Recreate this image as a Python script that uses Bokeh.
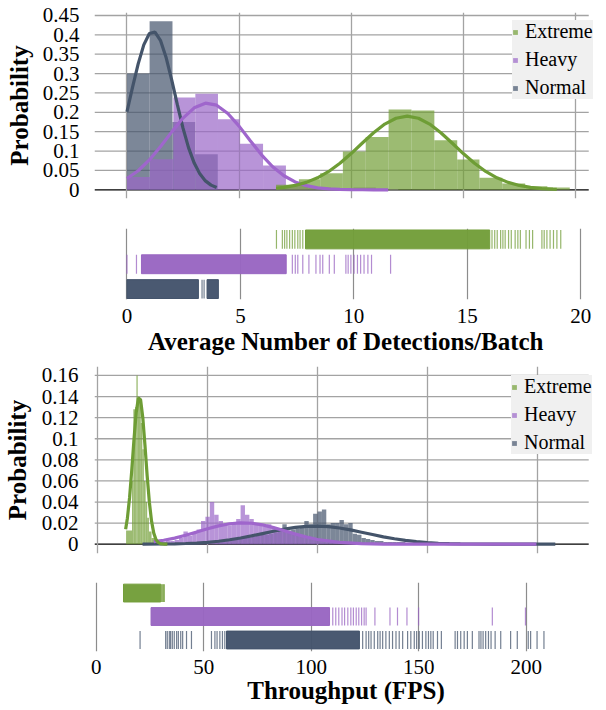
from bokeh.plotting import figure
from bokeh.layouts import column
from bokeh.models import FixedTicker, Grid, Legend, LegendItem, Range1d
from bokeh.embed import file_html
from bokeh.resources import INLINE

# ------------------------------------------------------------------ data
series = ["Extreme", "Heavy", "Normal"]

# ---- panel A : average number of detections / batch
det_xticks = [0, 5, 10, 15, 20]
det_xlabels = ["0", "5", "10", "15", "20"]
det_yticks = [0, 0.05, 0.1, 0.15, 0.2, 0.25, 0.3, 0.35, 0.4, 0.45]
det_ylabels = ["0", "0.05", "0.1", "0.15", "0.2", "0.25", "0.3", "0.35", "0.4", "0.45"]

det_normal_edges = [0.0, 1.01, 2.03, 3.04, 4.05]
det_normal_prob = [0.300, 0.435, 0.175, 0.092]
det_heavy_edges = [0.0, 1.02, 2.07, 3.05, 4.06, 5.03, 6.07, 7.09, 8.1, 9.1, 10.1, 11.1, 12.1]
det_heavy_prob = [0.033, 0.079, 0.238, 0.248, 0.182, 0.119, 0.063, 0.012, 0.006, 0.004, 0.006, 0.002]
det_ext_edges = [6.65, 7.67, 8.62, 9.63, 10.65, 11.67, 12.69, 13.71, 14.73, 15.72, 16.74, 17.76, 18.75, 19.75]
det_ext_prob = [0.013, 0.027, 0.043, 0.099, 0.136, 0.207, 0.205, 0.128, 0.078, 0.031, 0.016, 0.009, 0.006]

det_normal_fit_x = [0, 0.25, 0.5, 0.75, 1.0, 1.25, 1.5, 1.75, 2.0, 2.25, 2.5, 2.75, 3.0, 3.25, 3.5, 3.75, 4.0]
det_normal_fit_y = [0.2015, 0.265, 0.325, 0.374, 0.4035, 0.4072, 0.385, 0.3406, 0.2822, 0.2190, 0.1591,
                    0.1082, 0.0689, 0.0411, 0.0230, 0.0120, 0.0059]
det_heavy_fit_x = [0, 0.5, 1.0, 1.5, 2.0, 2.5, 3.0, 3.5, 4.0, 4.5, 5.0, 5.5, 6.0, 6.5, 7.0, 7.5, 8.0,
                   8.5, 9.0, 9.5, 10.0, 10.5, 11.0, 11.65]
det_heavy_fit_y = [0.0290, 0.0491, 0.0771, 0.1117, 0.1495, 0.1851, 0.2116, 0.2236, 0.2184, 0.1971, 0.1644,
                   0.1267, 0.0903, 0.0594, 0.0362, 0.0203, 0.0106, 0.0051, 0.0022, 0.0009, 0.0004, 0.0001,
                   0.0, 0.0]
det_ext_fit_x = [6.65, 7.0, 7.5, 8.0, 8.5, 9.0, 9.5, 10.0, 10.5, 11.0, 11.5, 12.0, 12.5, 13.0, 13.5, 14.0,
                 14.5, 15.0, 15.5, 16.0, 16.5, 17.0, 17.5, 18.0, 18.5, 19.0, 19.17]
det_ext_fit_y = [0.0039, 0.0062, 0.0112, 0.0191, 0.0310, 0.0474, 0.0685, 0.0935, 0.1207, 0.1472, 0.1696,
                 0.1847, 0.190, 0.1847, 0.1696, 0.1472, 0.1207, 0.0935, 0.0685, 0.0474, 0.0310, 0.0191,
                 0.0112, 0.0062, 0.0032, 0.0016, 0.0012]

# rug: dense stretches (start, end) and single observations
det_ext_rug_dense = [(7.87, 15.99)]
det_ext_rug_ticks = [6.59, 6.85, 6.95, 7.05, 7.17, 7.29, 7.40, 7.53, 7.63, 7.75, 16.09, 16.21, 16.32, 16.47,
                     16.57, 16.67, 16.82, 16.94, 17.11, 17.23, 17.34, 17.59, 17.74, 17.88, 18.29, 18.39,
                     18.51, 18.65, 18.80, 18.95, 19.12]
det_heavy_rug_dense = [(0.64, 7.02)]
det_heavy_rug_ticks = [0.0, 0.42, 7.29, 7.42, 7.53, 7.75, 8.02, 8.33, 8.51, 8.63, 8.92, 9.14, 9.65, 9.75,
                       9.87, 10.01, 10.16, 10.30, 10.45, 10.62, 10.78, 11.62]
det_normal_rug_dense = [(0.0, 3.15), (3.53, 4.03)]
det_normal_rug_ticks = [3.31, 3.40]

# ---- panel B : throughput (FPS)
fps_xticks = [0, 50, 100, 150, 200]
fps_xlabels = ["0", "50", "100", "150", "200"]
fps_yticks = [0, 0.02, 0.04, 0.06, 0.08, 0.1, 0.12, 0.14, 0.16]
fps_ylabels = ["0", "0.02", "0.04", "0.06", "0.08", "0.1", "0.12", "0.14", "0.16"]

fps_ext_edges = [12.9, 15.6, 16.2, 17.0, 17.6, 18.2, 18.8, 19.6, 20.3, 21.0, 21.8, 22.5, 23.3, 24.5, 26.0,
                 28.0, 31.7]
fps_ext_prob = [0.013, 0.060, 0.128, 0.130, 0.160, 0.140, 0.138, 0.115, 0.090, 0.060, 0.040, 0.025, 0.012,
                0.006, 0.003, 0.001]
fps_heavy_edges = list(range(25, 203, 2))
fps_heavy_prob = [0.001, 0.002, 0.002, 0.003, 0.003, 0.004, 0.006, 0.012, 0.008, 0.010,
                  0.014, 0.022, 0.026, 0.040, 0.028, 0.022, 0.019, 0.018, 0.021, 0.024,
                  0.037, 0.028, 0.024, 0.019, 0.018, 0.017, 0.019, 0.016, 0.015, 0.013,
                  0.012, 0.011, 0.010, 0.009, 0.008, 0.007, 0.006, 0.005, 0.005, 0.004,
                  0.003, 0.003, 0.002, 0.002, 0.002, 0.001, 0.001, 0.001, 0.001, 0.001,
                  0.0005, 0.0003, 0.0003, 0, 0.0003, 0, 0.0003, 0, 0, 0.0003,
                  0, 0, 0.0003, 0, 0, 0, 0, 0, 0, 0,
                  0, 0, 0, 0, 0, 0, 0, 0, 0, 0.0003,
                  0, 0, 0, 0, 0, 0, 0, 0.0003]
fps_normal_edges = list(range(20, 212, 2))
fps_normal_prob = [0.0005, 0, 0, 0, 0, 0, 0.001, 0.001, 0.001, 0.001,
                   0.0007, 0.0005, 0.0005, 0, 0, 0, 0.0005, 0.002, 0.002, 0.003,
                   0.004, 0.004, 0.005, 0.006, 0.006, 0.007, 0.008, 0.009, 0.009, 0.010,
                   0.011, 0.012, 0.019, 0.013, 0.014, 0.015, 0.017, 0.022, 0.019, 0.029,
                   0.031, 0.033, 0.019, 0.020, 0.020, 0.023, 0.019, 0.020, 0.010, 0.009,
                   0.006, 0.005, 0.004, 0.003, 0.003, 0.002, 0.002, 0.002, 0.002, 0.002,
                   0.001, 0.001, 0.001, 0.001, 0.001, 0.001, 0.001, 0.001, 0.001, 0.0005,
                   0.0005, 0, 0, 0.0007, 0.0007, 0.0005, 0.0005, 0.0003, 0.0003, 0.0005,
                   0.0005, 0.0005, 0.0003, 0.0003, 0.0002, 0.0002, 0.0003, 0.0002, 0, 0.0002,
                   0.0003, 0.0002, 0.0002, 0.0002, 0.0002]

fps_ext_fit_x = [12.7, 13.5, 14.5, 15.5, 16.5, 17.5, 18.5, 19.5, 20.5, 21.5, 22.5, 23.5, 24.5, 25.5, 26.5,
                 27.5, 28.5, 29.5, 30.5, 31.7]
fps_ext_fit_y = [0.0143, 0.0247, 0.0443, 0.0704, 0.0994, 0.1246, 0.1387, 0.1370, 0.1202, 0.0937, 0.0648,
                 0.0398, 0.0217, 0.0105, 0.0045, 0.0017, 0.0006, 0.0002, 0.0001, 0.0]
fps_heavy_fit_x = [25.5, 30, 35, 40, 45, 50, 55, 60, 65, 70, 75, 80, 85, 90, 95, 100, 110, 120, 130, 140,
                   160, 180, 199.6]
fps_heavy_fit_y = [0.0024, 0.0038, 0.0058, 0.0085, 0.0115, 0.0146, 0.0174, 0.0194, 0.0203, 0.0199, 0.0183,
                   0.0157, 0.0127, 0.0096, 0.0068, 0.0045, 0.0017, 0.0005, 0.0001, 0.0, 0.0, 0.0, 0.0]
fps_normal_fit_x = [20.4, 30, 35, 40, 45, 50, 55, 60, 65, 70, 75, 80, 85, 90, 95, 100, 105, 110, 115, 120,
                    125, 130, 135, 140, 145, 150, 155, 160, 165, 170, 180, 190, 208.2]
fps_normal_fit_y = [0.0001, 0.0002, 0.0004, 0.0007, 0.0011, 0.0018, 0.0028, 0.0042, 0.0059, 0.0079,
                    0.0101, 0.0123, 0.0143, 0.0160, 0.0169, 0.0172, 0.0166, 0.0154, 0.0136, 0.0114,
                    0.0092, 0.0070, 0.0052, 0.0036, 0.0024, 0.0015, 0.0009, 0.0005, 0.0003, 0.0002,
                    0.0, 0.0, 0.0]

fps_ext_rug_dense = [(12.7, 30.0)]
fps_ext_rug_ticks = [30.4, 30.9, 31.3, 31.7]
fps_heavy_rug_dense = [(25.5, 108.5)]
fps_heavy_rug_ticks = [110.0, 111.4, 112.8, 114.3, 115.5, 117.0, 118.4, 119.6, 120.9, 122.1, 123.4, 124.6,
                       125.5, 129.6, 136.6, 140.1, 144.5, 149.9, 184.2, 199.6]
fps_normal_rug_dense = [(60.6, 122.4)]
fps_normal_rug_ticks = [20.4, 32.3, 33.05, 34.0, 34.6, 35.4, 36.3, 37.4, 38.2, 39.3, 40.2, 42.0, 44.3,
                        53.6, 55.2, 56.2, 57.5, 58.7, 59.8, 123.9, 125.5, 126.7, 127.8, 129.3, 130.9,
                        132.0, 133.2, 134.7, 136.3, 137.8, 139.4, 140.9, 142.5, 144.8, 146.3, 147.9,
                        149.0, 150.2, 151.7, 153.3, 154.5, 155.6, 156.7, 158.7, 160.5, 166.9, 168.0,
                        169.5, 171.1, 172.6, 174.9, 178.0, 178.9, 179.9, 181.1, 182.4, 183.6, 185.5,
                        188.1, 192.7, 195.8, 200.9, 202.0, 205.0, 208.2]

# ------------------------------------------------------------------ style
W = 606
SERIF = "Liberation Serif"
GRID_C = "#a3a3a3"
BAR_C = {"Extreme": "#729E36", "Heavy": "#9A66C8", "Normal": "#44546C"}
LINE_C = {"Extreme": "#6E9D35", "Heavy": "#9F66CC", "Normal": "#44546A"}
RUG_C = {"Extreme": "#739E3A", "Heavy": "#9966C2", "Normal": "#44546C"}
ROW = {"Extreme": 2, "Heavy": 1, "Normal": 0}


def hist_panel(height, b_top, b_bottom, b_left, xr, grid_end, yr, xticks, yticks, ylabels,
               hists, fits, legend_loc, tick_standoff, title_standoff):
    p = figure(width=W, height=height, x_range=Range1d(*xr), y_range=Range1d(*yr),
               x_axis_location=None, output_backend="svg", toolbar_location=None,
               min_border_left=b_left, min_border_right=0, min_border_top=b_top,
               min_border_bottom=b_bottom)
    p.outline_line_color = None
    p.xgrid.visible = False
    p.ygrid.visible = False
    p.add_layout(Grid(dimension=0, ticker=FixedTicker(ticks=xticks), grid_line_color=GRID_C,
                      grid_line_width=1.3))
    hy = yticks[1:]
    p.segment(x0=[xr[0]] * len(hy), x1=[grid_end] * len(hy), y0=hy, y1=hy,
              line_color=GRID_C, line_width=1.3, level="underlay")
    p.segment(x0=[xr[0]], x1=[grid_end], y0=[0], y1=[0], line_color="black", line_width=1.3,
              level="underlay")
    ax = p.yaxis[0]
    ax.ticker = FixedTicker(ticks=yticks)
    ax.major_label_overrides = {t: l for t, l in zip(yticks, ylabels)}
    ax.axis_line_color = None
    ax.major_tick_line_color = None
    ax.minor_tick_line_color = None
    ax.major_tick_out = 0
    ax.major_tick_in = 0
    ax.major_label_standoff = tick_standoff
    ax.major_label_text_font = SERIF
    ax.major_label_text_font_size = "21px"
    ax.major_label_text_color = "black"
    ax.axis_label = "Probability"
    ax.axis_label_text_font = SERIF
    ax.axis_label_text_font_style = "bold"
    ax.axis_label_text_font_size = "25px"
    ax.axis_label_text_color = "black"
    ax.axis_label_standoff = title_standoff

    rends = {}
    for name in ["Normal", "Heavy", "Extreme"]:
        edges, prob = hists[name]
        rends[name] = p.quad(left=edges[:-1], right=edges[1:], bottom=0, top=prob,
                             fill_color=BAR_C[name], fill_alpha=0.7, line_color=None)
    for name in ["Normal", "Heavy", "Extreme"]:
        fx, fy = fits[name]
        p.line(fx, fy, line_color=LINE_C[name], line_width=3.2)

    legend = Legend(items=[LegendItem(label=n, renderers=[rends[n]]) for n in series],
                    location=legend_loc)
    legend.background_fill_color = "#f0f0f0"
    legend.background_fill_alpha = 1
    legend.border_line_color = None
    legend.glyph_width = 6
    legend.glyph_height = 6
    legend.label_standoff = 7
    legend.padding = 5
    legend.spacing = 5
    legend.margin = 0
    legend.label_text_font = SERIF
    legend.label_text_font_size = "20px"
    legend.label_text_color = "black"
    p.add_layout(legend)
    return p


def rug_panel(height, b_top, b_bottom, b_left, xr, yr, xticks, xlabels, xtitle, rugs,
              label_standoff, title_standoff):
    p = figure(width=W, height=height, x_range=Range1d(*xr), y_range=Range1d(*yr),
               y_axis_location=None, output_backend="svg", toolbar_location=None,
               min_border_left=b_left, min_border_right=9, min_border_top=b_top,
               min_border_bottom=b_bottom)
    p.outline_line_color = None
    p.ygrid.visible = False
    p.xgrid.ticker = FixedTicker(ticks=xticks)
    p.xgrid.grid_line_color = "#8c8c8c"
    p.xgrid.grid_line_width = 1.2
    ax = p.xaxis[0]
    ax.ticker = FixedTicker(ticks=xticks)
    ax.major_label_overrides = {t: l for t, l in zip(xticks, xlabels)}
    ax.axis_line_color = None
    ax.major_tick_line_color = None
    ax.minor_tick_line_color = None
    ax.major_tick_out = 0
    ax.major_tick_in = 0
    ax.major_label_standoff = label_standoff
    ax.major_label_text_font = SERIF
    ax.major_label_text_font_size = "21px"
    ax.major_label_text_color = "black"
    ax.axis_label = xtitle
    ax.axis_label_text_font = SERIF
    ax.axis_label_text_font_style = "bold"
    ax.axis_label_text_font_size = "25px"
    ax.axis_label_text_color = "black"
    ax.axis_label_standoff = title_standoff

    half = 0.38
    for name in series:
        dense, ticks = rugs[name]
        r = ROW[name]
        p.quad(left=[a for a, b in dense], right=[b for a, b in dense], bottom=r - half, top=r + half,
               fill_color=RUG_C[name], fill_alpha=0.97, line_color=RUG_C[name], line_width=1)
        p.segment(x0=ticks, x1=ticks, y0=[r - half] * len(ticks), y1=[r + half] * len(ticks),
                  line_color=RUG_C[name], line_width=1.2, line_alpha=0.75)
    return p


p1 = hist_panel(206, 12, 8, 90, (-1.448, 20.987), 20.596, (-0.0225, 0.4577),
                det_xticks, det_yticks, det_ylabels,
                {"Normal": (det_normal_edges, det_normal_prob),
                 "Heavy": (det_heavy_edges, det_heavy_prob),
                 "Extreme": (det_ext_edges, det_ext_prob)},
                {"Normal": (det_normal_fit_x, det_normal_fit_y),
                 "Heavy": (det_heavy_fit_x, det_heavy_fit_y),
                 "Extreme": (det_ext_fit_x, det_ext_fit_y)},
                (418, 99), 15, 7)
p2 = rug_panel(151, 22, 58, 90, (-1.43, 20.74), (-0.42, 2.44), det_xticks, det_xlabels,
               "Average Number of Detections/Batch",
               {"Extreme": (det_ext_rug_dense, det_ext_rug_ticks),
                "Heavy": (det_heavy_rug_dense, det_heavy_rug_ticks),
                "Normal": (det_normal_rug_dense, det_normal_rug_ticks)}, 9, 2)
p3 = hist_panel(204, 9, 8, 91, (-1.466, 227.4), 223.4, (-0.0088, 0.1685),
                fps_xticks, fps_yticks, fps_ylabels,
                {"Normal": (fps_normal_edges, fps_normal_prob),
                 "Heavy": (fps_heavy_edges, fps_heavy_prob),
                 "Extreme": (fps_ext_edges, fps_ext_prob)},
                {"Normal": (fps_normal_fit_x, fps_normal_fit_y),
                 "Heavy": (fps_heavy_fit_x, fps_heavy_fit_y),
                 "Extreme": (fps_ext_fit_x, fps_ext_fit_y)},
                (417, 99), 16, 8)
p4 = rug_panel(145, 21, 52, 91, (-0.79, 233.1), (-0.49, 2.45), fps_xticks, fps_xlabels,
               "Throughput (FPS)",
               {"Extreme": (fps_ext_rug_dense, fps_ext_rug_ticks),
                "Heavy": (fps_heavy_rug_dense, fps_heavy_rug_ticks),
                "Normal": (fps_normal_rug_dense, fps_normal_rug_ticks)}, 8, 0)

layout = column(p1, p2, p3, p4, spacing=0)
open("out.html", "w").write(file_html(layout, INLINE))
